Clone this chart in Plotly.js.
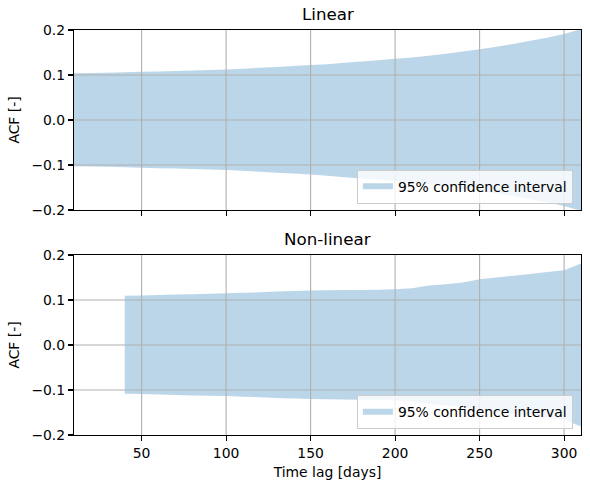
<!DOCTYPE html>
<html>
<head>
<meta charset="utf-8">
<script src="https://cdn.plot.ly/plotly-3.0.1.min.js"></script>
<style>html,body{margin:0;padding:0;background:#fff;}#chart{width:590px;height:489px;}</style>
</head>
<body>
<div id="chart"></div>
<script>
// ---- data ----
const linearLag = [10,20,30,40,50,60,70,80,90,100,110,120,130,140,150,160,170,180,190,200,210,220,230,240,250,260,270,280,290,300,310];
const linearUpper = [0.104,0.1045,0.105,0.106,0.107,0.108,0.109,0.110,0.111,0.112,0.114,0.116,0.118,0.120,0.122,0.124,0.127,0.130,0.133,0.136,0.139,0.143,0.147,0.152,0.157,0.163,0.169,0.176,0.183,0.191,0.202];
const linearLower = [-0.103,-0.1035,-0.104,-0.105,-0.106,-0.107,-0.108,-0.109,-0.110,-0.111,-0.113,-0.115,-0.117,-0.119,-0.121,-0.124,-0.127,-0.130,-0.133,-0.136,-0.139,-0.143,-0.147,-0.152,-0.157,-0.163,-0.169,-0.176,-0.183,-0.191,-0.202];

const nonlinLag = [40,50,60,70,80,90,100,110,120,130,140,150,160,170,180,190,200,210,220,230,240,250,260,270,280,290,300,310];
const nonlinUpper = [0.1095,0.110,0.111,0.112,0.113,0.114,0.115,0.116,0.117,0.119,0.120,0.121,0.1215,0.122,0.1225,0.123,0.124,0.126,0.132,0.135,0.139,0.146,0.150,0.154,0.158,0.162,0.166,0.181];
const nonlinLower = [-0.1085,-0.109,-0.110,-0.111,-0.112,-0.113,-0.1135,-0.115,-0.116,-0.118,-0.119,-0.120,-0.1205,-0.121,-0.1215,-0.122,-0.123,-0.125,-0.131,-0.134,-0.138,-0.145,-0.149,-0.153,-0.157,-0.161,-0.166,-0.181];

const panelTitles = ["Linear", "Non-linear"];
const legendLabel = "95% confidence interval";
const xTicks = [50,100,150,200,250,300];
const yTicks = [-0.2,-0.1,0.0,0.1,0.2];
const xRange = [10,310];
const yRange = [-0.2,0.2];

// ---- styling ----
const FONT = "DejaVu Sans";
const fillCol = "rgba(31,119,180,0.3)";
const gridCol = "#b0b0b0";

function band(x, up, lo, xa, ya, leg) {
  const xs = x.concat(x.slice().reverse());
  const ys = up.concat(lo.slice().reverse());
  return {
    x: xs, y: ys, xaxis: xa, yaxis: ya,
    type: "scatter", mode: "none", fill: "toself",
    fillcolor: fillCol,
    name: legendLabel, showlegend: true, legend: leg, hoverinfo: "skip"
  };
}

const traces = [
  band(linearLag, linearUpper, linearLower, "x", "y", "legend"),
  band(nonlinLag, nonlinUpper, nonlinLower, "x2", "y2", "legend2")
];

function axisX(domainAnchor, showLabels, withTitle) {
  const ax = {
    domain: [0, 1], anchor: domainAnchor, range: xRange,
    tickmode: "array", tickvals: xTicks, ticktext: xTicks.map(String),
    showticklabels: showLabels, ticks: "outside", ticklen: 5, tickwidth: 1.1, tickcolor: "#000",
    showline: true, linecolor: "#000", linewidth: 1.1, mirror: true,
    showgrid: false, zeroline: false,
    tickfont: {family: FONT, size: 13.9, color: "#000"}
  };
  if (withTitle) ax.title = {text: "Time lag [days]", font: {family: FONT, size: 13.9, color: "#000"}, standoff: 7};
  return ax;
}
function axisY(domain, anchor) {
  return {
    domain: domain, anchor: anchor, range: yRange,
    tickmode: "array", tickvals: yTicks, ticktext: yTicks.map(v => (v < 0 ? "\u2212" : "") + Math.abs(v).toFixed(1)),
    ticks: "outside", ticklen: 5, tickwidth: 1.1, tickcolor: "#000",
    showline: true, linecolor: "#000", linewidth: 1.1, mirror: true,
    showgrid: false, zeroline: false,
    tickfont: {family: FONT, size: 13.9, color: "#000"},
    title: {text: "ACF [-]", font: {family: FONT, size: 13.9, color: "#000"}, standoff: 8}
  };
}

// grid lines drawn above the fill (as in the reference), from the tick arrays
const shapes = [];
[["x","y"],["x2","y2"]].forEach(([xa, ya]) => {
  xTicks.forEach(t => {
    if (t > xRange[0] && t < xRange[1]) shapes.push({type:"line", layer:"above", xref:xa, yref:ya+" domain", x0:t, x1:t, y0:0, y1:1, line:{color:gridCol, width:1.1}});
  });
  yTicks.forEach(t => {
    if (t > yRange[0] && t < yRange[1]) shapes.push({type:"line", layer:"above", xref:xa+" domain", yref:ya, x0:0, x1:1, y0:t, y1:t, line:{color:gridCol, width:1.1}});
  });
});

const annotations = panelTitles.map((t, i) => ({
  text: t, xref: (i === 0 ? "x" : "x2") + " domain", yref: (i === 0 ? "y" : "y2") + " domain",
  x: 0.5, y: 1, xanchor: "center", yanchor: "bottom", yshift: 4, showarrow: false,
  font: {family: FONT, size: 16.7, color: "#000"}
}));

const legendStyle = (y) => ({
  x: 0.984, y: y, xanchor: "right", yanchor: "bottom",
  bgcolor: "rgba(255,255,255,0.8)", bordercolor: "#cccccc", borderwidth: 1,
  font: {family: FONT, size: 13.9, color: "#000"}, itemwidth: 30
});

const layout = {
  width: 590, height: 489,
  margin: {l: 74, r: 9, t: 30, b: 54},
  paper_bgcolor: "#fff", plot_bgcolor: "#fff",
  font: {family: FONT, color: "#000"},
  xaxis: axisX("y", false, false),
  yaxis: axisY([0.5556, 1], "x"),
  xaxis2: axisX("y2", true, true),
  yaxis2: axisY([0, 0.4444], "x2"),
  shapes: shapes,
  annotations: annotations,
  legend: legendStyle(0.571),
  legend2: legendStyle(0.0143),
  showlegend: true
};

Plotly.newPlot("chart", traces, layout, {displayModeBar: false, staticPlot: true});
</script>
</body>
</html>
